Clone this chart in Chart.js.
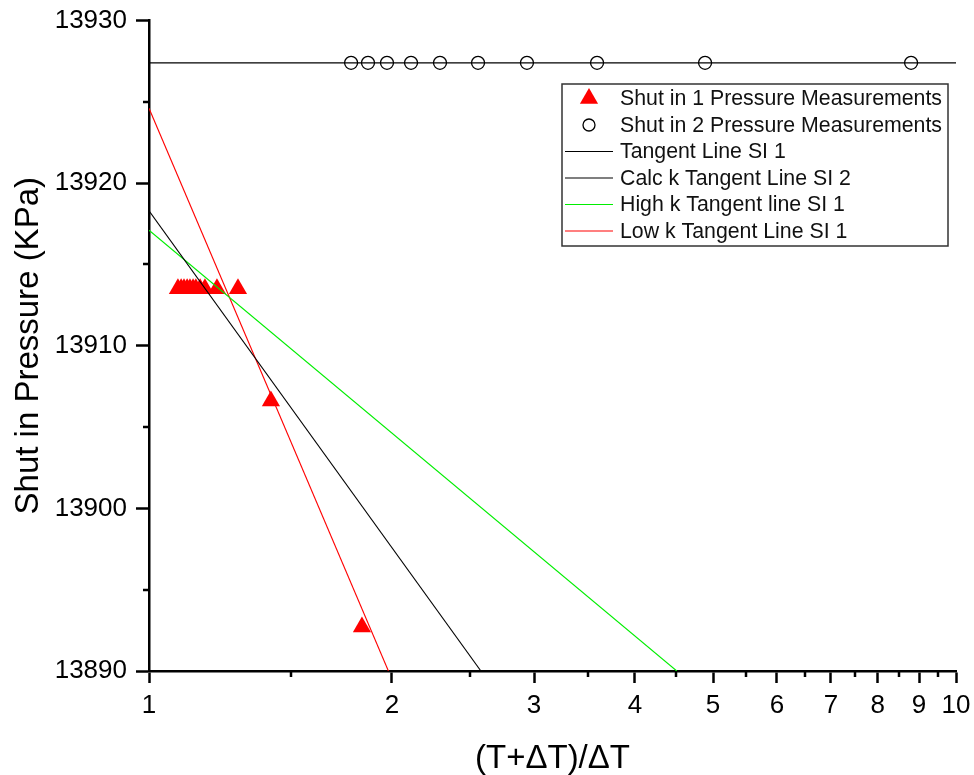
<!DOCTYPE html>
<html>
<head>
<meta charset="utf-8">
<title>Horner plot</title>
<script src="https://cdn.jsdelivr.net/npm/chart.js@4.4.1/dist/chart.umd.min.js"></script>
<style>
  html, body { margin: 0; padding: 0; background: #ffffff; }
  canvas { display: block; }
</style>
</head>
<body>
<canvas id="horner" width="974" height="775"></canvas>
<script>
// Shut-in 1 measurements: Horner time ratio and pressure (kPa)
const si1Ratio = [1.086, 1.096, 1.105, 1.115, 1.124, 1.134, 1.143, 1.157, 1.173, 1.214, 1.289, 1.416, 1.836];
const si1Pressure = [13913.5, 13913.5, 13913.5, 13913.5, 13913.5, 13913.5, 13913.5, 13913.5, 13913.5, 13913.5, 13913.5, 13906.6, 13892.7];

// Shut-in 2 measurements
const si2Ratio = [1.780, 1.868, 1.972, 2.112, 2.294, 2.557, 2.940, 3.591, 4.887, 8.797];
const si2Pressure = [13927.4, 13927.4, 13927.4, 13927.4, 13927.4, 13927.4, 13927.4, 13927.4, 13927.4, 13927.4];

// Tangent lines (end points, straight on the semi-log axes)
const tangentSI1Ratio = [1, 2.578];
const tangentSI1Pressure = [13918.3, 13890];
const calcKSI2Ratio = [1, 10];
const calcKSI2Pressure = [13927.4, 13927.4];
const highKRatio = [1, 4.508];
const highKPressure = [13917.1, 13890];
const lowKRatio = [1, 1.98];
const lowKPressure = [13924.6, 13890];

// Tick values
const xMajorTicks = [1, 2, 3, 4, 5, 6, 7, 8, 9, 10];
const xMinorTicks = [1.5, 2.5, 3.5, 4.5, 5.5, 6.5, 7.5, 8.5, 9.5];
const yMajorTicks = [13890, 13900, 13910, 13920, 13930];
const yMinorTicks = [13895, 13905, 13915, 13925];

const pts = (xs, ys) => xs.map((x, i) => ({ x: x, y: ys[i] }));

Chart.defaults.font.family = "'Liberation Sans', Arial, sans-serif";
Chart.defaults.color = '#000';

// Short minor tick marks on both axes
const minorTicks = {
  id: 'minorTicks',
  afterDraw(chart) {
    const { ctx, scales: { x, y } } = chart;
    const area = chart.chartArea;
    ctx.save();
    ctx.strokeStyle = '#000';
    ctx.lineWidth = 2.5;
    ctx.beginPath();
    xMinorTicks.forEach(v => {
      const px = Math.round(x.getPixelForValue(v));
      ctx.moveTo(px, area.bottom);
      ctx.lineTo(px, area.bottom + 6);
    });
    yMinorTicks.forEach(v => {
      const py = Math.round(y.getPixelForValue(v));
      ctx.moveTo(area.left, py);
      ctx.lineTo(area.left - 6, py);
    });
    ctx.stroke();
    ctx.restore();
  }
};

// Boxed legend inside the plot area
const boxLegend = {
  id: 'boxLegend',
  afterDraw(chart, args, opts) {
    const { ctx } = chart;
    const h = Chart.helpers;
    ctx.save();
    ctx.strokeStyle = '#333';
    ctx.lineWidth = 1.5;
    ctx.strokeRect(opts.left, opts.top, opts.width, opts.height);
    ctx.font = opts.fontSize + "px 'Liberation Sans', Arial, sans-serif";
    ctx.textBaseline = 'middle';
    ctx.textAlign = 'left';
    chart.data.datasets.forEach((ds, i) => {
      const rowY = opts.top + opts.firstRow + i * opts.rowStep;
      if (ds.showLine) {
        ctx.strokeStyle = ds.borderColor;
        ctx.lineWidth = 1.2;
        ctx.beginPath();
        ctx.moveTo(opts.left + 3, rowY);
        ctx.lineTo(opts.left + 51, rowY);
        ctx.stroke();
      } else {
        ctx.fillStyle = ds.pointBackgroundColor;
        ctx.strokeStyle = ds.pointBorderColor;
        ctx.lineWidth = ds.pointBorderWidth;
        h.drawPoint(ctx, {
          pointStyle: ds.pointStyle,
          radius: ds.legendRadius,
          rotation: 0,
          borderWidth: ds.pointBorderWidth
        }, opts.left + 27, rowY);
      }
      ctx.fillStyle = '#111';
      ctx.fillText(ds.label, opts.left + 58, rowY + 1);
    });
    ctx.restore();
  }
};

new Chart(document.getElementById('horner'), {
  type: 'scatter',
  data: {
    datasets: [
      {
        label: 'Shut in 1 Pressure Measurements',
        data: pts(si1Ratio, si1Pressure),
        pointStyle: 'triangle',
        pointRadius: 10.5,
        legendRadius: 10.5,
        pointBackgroundColor: '#ff0000',
        pointBorderColor: '#ff0000',
        pointBorderWidth: 0,
        showLine: false,
        order: 10
      },
      {
        label: 'Shut in 2 Pressure Measurements',
        data: pts(si2Ratio, si2Pressure),
        pointStyle: 'circle',
        pointRadius: 6.5,
        legendRadius: 6,
        pointBackgroundColor: 'rgba(255,255,255,0)',
        pointBorderColor: '#000',
        pointBorderWidth: 1.3,
        showLine: false,
        order: 5
      },
      {
        label: 'Tangent Line SI 1',
        data: pts(tangentSI1Ratio, tangentSI1Pressure),
        showLine: true,
        borderColor: '#000000',
        borderWidth: 1.1,
        pointRadius: 0,
        order: 1
      },
      {
        label: 'Calc k Tangent Line SI 2',
        data: pts(calcKSI2Ratio, calcKSI2Pressure),
        showLine: true,
        borderColor: '#000000',
        borderWidth: 1.3,
        pointRadius: 0,
        order: 6
      },
      {
        label: 'High k Tangent line SI 1',
        data: pts(highKRatio, highKPressure),
        showLine: true,
        borderColor: '#00ee00',
        borderWidth: 1.1,
        pointRadius: 0,
        order: 1
      },
      {
        label: 'Low k Tangent Line SI 1',
        data: pts(lowKRatio, lowKPressure),
        showLine: true,
        borderColor: '#ff0000',
        borderWidth: 1.1,
        pointRadius: 0,
        order: 1
      }
    ]
  },
  options: {
    responsive: false,
    animation: false,
    events: [],
    layout: { padding: { left: 0, top: 20.5, right: 18, bottom: 0 } },
    plugins: {
      legend: { display: false },
      tooltip: { enabled: false },
      boxLegend: {
        left: 562, top: 84, width: 386, height: 162,
        firstRow: 14.5, rowStep: 26.5, fontSize: 21.3
      }
    },
    scales: {
      x: {
        type: 'logarithmic',
        min: 1,
        max: 10,
        afterBuildTicks: s => { s.ticks = xMajorTicks.map(v => ({ value: v })); },
        afterFit: s => {
          s.height = 104;
          s.paddingLeft = 0;
          s.paddingRight = 0;
        },
        ticks: {
          autoSkip: false,
          maxRotation: 0,
          padding: 7,
          font: { size: 26 },
          color: '#000',
          callback: v => String(v)
        },
        grid: {
          display: true,
          drawOnChartArea: false,
          drawTicks: true,
          tickLength: 12,
          tickWidth: 2.5,
          tickColor: '#000'
        },
        border: { display: true, color: '#000', width: 2.5 },
        title: {
          display: true,
          text: '(T+ΔT)/ΔT',
          font: { size: 33, lineHeight: 1.0 },
          color: '#000',
          padding: { top: 0, bottom: 0 }
        }
      },
      y: {
        type: 'linear',
        min: 13890,
        max: 13930,
        afterBuildTicks: s => { s.ticks = yMajorTicks.map(v => ({ value: v })); },
        afterFit: s => {
          s.width = 149;
          s.paddingTop = 0;
          s.paddingBottom = 0;
        },
        ticks: {
          padding: 9,
          font: { size: 26 },
          color: '#000',
          callback: v => String(v)
        },
        grid: {
          display: true,
          drawOnChartArea: false,
          drawTicks: true,
          tickLength: 13,
          tickWidth: 2.5,
          tickColor: '#000'
        },
        border: { display: true, color: '#000', width: 2.5 },
        title: {
          display: true,
          text: 'Shut in Pressure (KPa)',
          font: { size: 33, lineHeight: 1.2 },
          color: '#000',
          padding: { top: 9, bottom: 0 }
        }
      }
    }
  },
  plugins: [minorTicks, boxLegend]
});
</script>
</body>
</html>
